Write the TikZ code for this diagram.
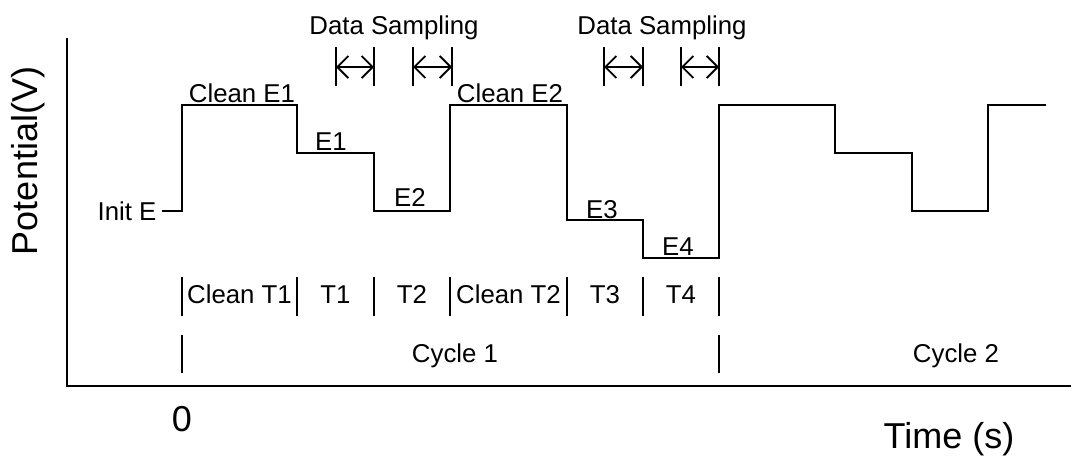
\documentclass[tikz,border=0pt]{standalone}
\usepackage{fontspec}
\setmainfont{Liberation Sans}
\usetikzlibrary{arrows.meta}
\begin{document}
\begin{tikzpicture}[x=1pt,y=-1pt,
  wave/.style={line width=2pt, line join=miter},
  axisline/.style={line width=2pt},
  tickline/.style={line width=2pt},
  smalllab/.style={font=\fontsize{25.8}{30}\selectfont, inner sep=0pt, anchor=base},
  biglab/.style={font=\fontsize{36}{40}\selectfont, inner sep=0pt, anchor=base},
  samparrow/.style={line width=1.8pt, {Straight Barb[length=11pt,width=22pt]}-{Straight Barb[length=11pt,width=22pt]}}
]
\useasboundingbox (0,0) rectangle (1071,456);

% axes
\coordinate (ytop) at (67,38);
\coordinate (origin) at (67,386);
\coordinate (xend) at (1071,386);
\draw[axisline] (ytop) -- (origin) -- (xend);

% waveform
\draw[wave] (162,211) -- (182,211) -- (182,105) -- (297,105) -- (297,153)
  -- (374,153) -- (374,211) -- (450,211) -- (450,105) -- (567,105)
  -- (567,220) -- (643,220) -- (643,258) -- (719,258) -- (719,105)
  -- (835,105) -- (835,153) -- (912,153) -- (912,211) -- (988,211)
  -- (988,105) -- (1046,105);

% potential labels
\node[smalllab] (initE) at (127,220) {Init E};
\node[smalllab] (cleanE1) at (242,102) {Clean E1};
\node[smalllab] (E1) at (331,150) {E1};
\node[smalllab] (E2) at (410,206) {E2};
\node[smalllab] (cleanE2) at (510,102) {Clean E2};
\node[smalllab] (E3) at (602,218) {E3};
\node[smalllab] (E4) at (678,255) {E4};

% data sampling
\node[smalllab] (ds1) at (394,34) {Data Sampling};
\node[smalllab] (ds2) at (662,34) {Data Sampling};
\foreach \a/\b [count=\i] in {336/374, 413/452, 604/643, 681/719} {
  \coordinate (sa\i) at (\a,67);
  \coordinate (sb\i) at (\b,67);
  \draw[tickline] (\a,47) -- (\a,86);
  \draw[tickline] (\b,47) -- (\b,86);
  \draw[samparrow] (sa\i) -- (sb\i);
}

% time segment ticks
\foreach \x in {182,297,374,450,567,643,719} {
  \draw[tickline] (\x,277) -- (\x,316);
}
\node[smalllab] (cT1) at (239.5,303) {Clean T1};
\node[smalllab] (T1) at (335.5,303) {T1};
\node[smalllab] (T2) at (412,303) {T2};
\node[smalllab] (cT2) at (508.5,303) {Clean T2};
\node[smalllab] (T3) at (605,303) {T3};
\node[smalllab] (T4) at (681,303) {T4};

% cycle ticks
\foreach \x in {182,719} {
  \draw[tickline] (\x,335) -- (\x,373);
}
\node[smalllab] (cyc1) at (455,362) {Cycle 1};
\node[smalllab] (cyc2) at (956,362) {Cycle 2};

% axis labels
\node[biglab, rotate=90] (ylab) at (37,161) {Potential(V)};
\node[biglab] (zero) at (182,431) {0};
\node[biglab] (xlab) at (949,448) {Time (s)};
\end{tikzpicture}
\end{document}
